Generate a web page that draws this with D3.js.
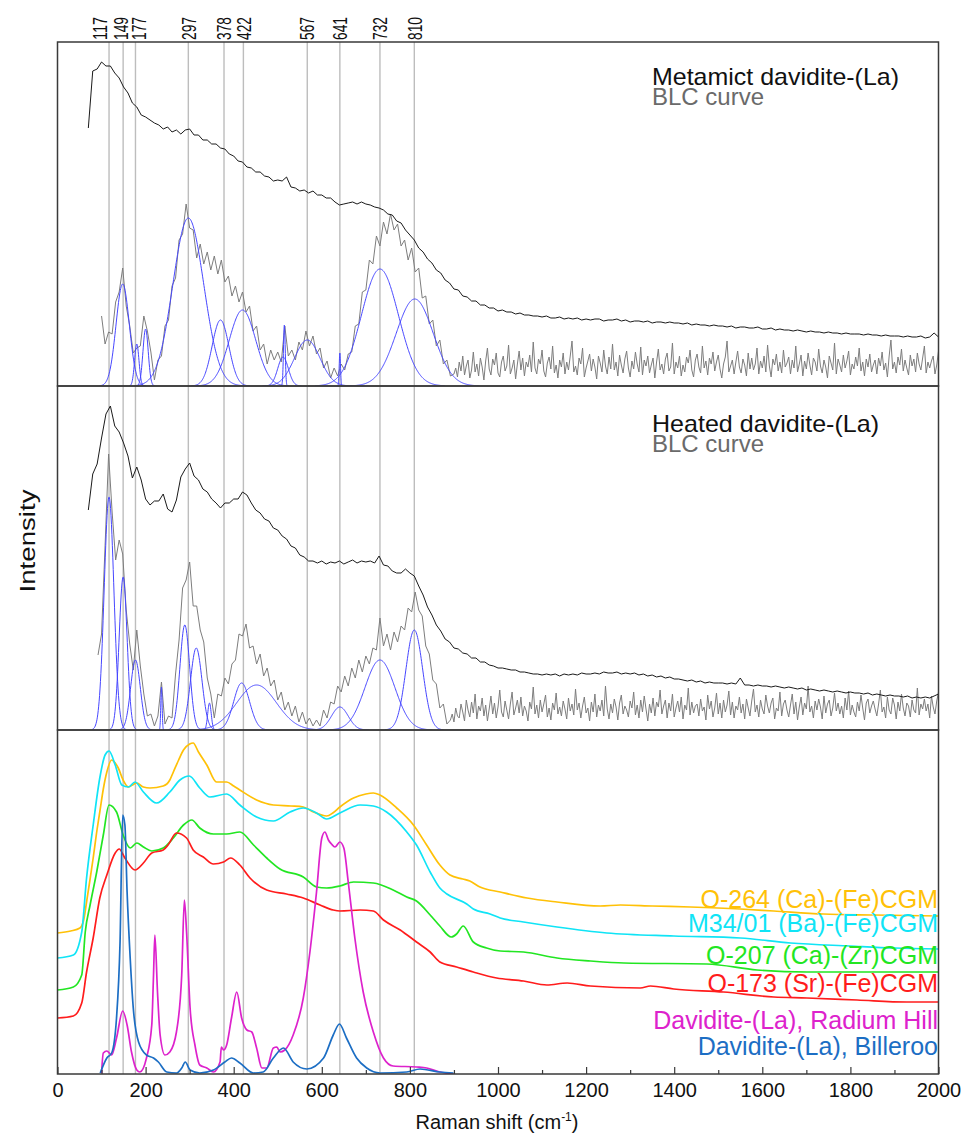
<!DOCTYPE html>
<html>
<head>
<meta charset="utf-8">
<script src="https://cdn.jsdelivr.net/npm/d3@7"></script>
<style>
  body { margin: 0; background: #fff; }
  text { font-family: "Liberation Sans", Arial, sans-serif; }
</style>
</head>
<body>
<svg id="chart" width="976" height="1136"></svg>
<script>
// ---------- Band positions marked across all panels (cm-1) ----------
const bandShifts = [117, 149, 177, 297, 378, 422, 567, 641, 732, 810];
const axisTicks = [0, 200, 400, 600, 800, 1000, 1200, 1400, 1600, 1800, 2000];

// ---------- Metamict davidite-(La): raw spectrum (start 70, step 10 cm-1) ----------
const metaRawStart = 70, metaRawStep = 10;
const metaRaw = [
  258,315,317,324,320,320,313,308,299,293,283,
  279,271,269,266,263,261,257,259,254,256,252,256,
  257,251,251,246,246,242,242,238,237,232,230,
  225,224,219,218,214,214,210,209,205,206,
  205,209,199,198,195,196,193,195,191,191,
  188,188,184,181,182,183,184,182,184,182,
  181,179,178,176,172,171,165,163,156,151,
  146,138,134,127,123,116,113,106,103,97,
  96,90,89,85,85,81,81,78,78,75,
  76,74,74,72,73,71,71,70,70,69,
  70,68,68,69,67,68,67,68,66,67,
  66,67,67,65,66,66,67,65,66,64,
  65,65,64,65,63,64,64,63,64,63,
  63,62,63,61,62,61,61,60,61,60,
  60,59,60,58,59,59,58,58,59,57,
  57,58,56,57,56,56,55,56,55,54,
  55,54,54,53,54,53,53,52,53,52,
  52,52,51,52,51,51,50,51,50,50,
  50,49,50,49,49,50,48,49,53,49
];

// Metamict baseline-corrected (BLC) spectrum, band region (start 100, step 8 cm-1)
const metaBlcStart = 100, metaBlcStep = 8;
const metaBlc = [
  70,42,54,52,84,94,118,80,60,33,
  38,40,70,55,34,6,26,30,60,66,
  100,108,146,152,182,158,156,128,142,122,
  134,116,130,112,126,104,110,90,100,84,
  94,74,80,55,60,36,42,22,36,26,
  34,24,60,30,36,26,44,36,55,40,
  50,32,38,18,25,8,18,10,22,16,
  32,34,60,62,94,96,126,122,150,140,
  164,152,172,156,162,140,146,126,138,114,
  118,88,90,62,66,40,46,22,26,10
];
// Metamict BLC, featureless tail (start 900, step 4 cm-1)
const metaTailStart = 900, metaTailStep = 4;
const metaTail = [
  12,18,9,24,15,30,11,20,26,8,
  16,34,14,22,10,28,19,6,25,38,
  17,11,27,21,33,13,9,24,30,15,
  20,41,12,18,26,7,22,35,16,28,
  10,24,19,31,14,44,18,12,27,22,
  36,15,9,23,29,17,40,13,21,8,
  26,19,33,12,24,16,30,45,14,20,
  11,28,22,38,9,18,25,32,15,27,
  19,7,30,23,14,36,20,12,29,17,
  42,16,24,10,31,21,13,27,35,18,
  9,25,17,34,22,14,39,11,26,20,
  30,13,21,28,8,24,37,16,22,12,
  27,33,15,19,43,12,24,18,30,10,
  21,14,29,23,36,16,9,26,32,19,
  13,40,18,25,11,28,22,34,15,24,
  31,17,8,22,29,45,14,20,26,12,
  24,35,19,13,27,21,10,33,17,28,
  16,22,38,12,25,18,30,14,41,20,
  9,27,21,32,15,24,13,36,19,23,
  29,12,26,18,40,14,22,31,10,25,
  17,33,21,11,28,24,15,37,20,13,
  26,19,8,30,23,16,43,12,27,21,
  14,31,18,25,35,11,22,17,29,20,
  38,15,24,10,27,19,32,14,21,26,
  12,28,20,34,16,23,9,30,46,17,
  24,13,29,21,37,15,26,18,11,31,
  20,27,14,33,22,16,28,40,13,24,
  18,25,30,12,21,35,17,26,22,15
];

// Metamict fitted peak components: centre (cm-1), height, sigma
const metaPeakCentre = [148, 180, 200, 297, 370, 420, 512, 515, 567, 641, 732, 811];
const metaPeakHeight = [102, 42, 57, 168, 66, 76, 29, 61, 46, 33, 117, 87];
const metaPeakSigma  = [15, 5, 6, 35, 19, 30, 12, 2, 29, 1.5, 42, 42];

// ---------- Heated davidite-(La): raw spectrum (start 70, step 10 cm-1) ----------
const heatRawStart = 70, heatRawStep = 10;
const heatRaw = [
  220,256,266,292,316,324,304,298,287,274,252,
  263,250,231,225,229,229,236,221,218,230,253,261,
  267,254,250,241,238,231,227,222,227,227,231,
  231,238,235,227,220,217,211,209,202,200,
  194,191,184,182,175,173,169,169,167,169,
  166,168,167,169,166,168,170,167,169,168,
  169,167,174,165,164,159,157,157,161,157,
  154,144,135,123,115,105,99,91,88,82,
  81,77,76,72,72,68,68,65,64,62,
  62,61,60,60,58,58,57,56,56,55,
  56,55,56,54,56,55,56,55,57,56,
  56,57,56,58,57,57,58,56,57,56,
  57,55,56,54,55,53,54,52,53,51,
  51,50,49,50,48,49,47,48,47,47,
  47,46,47,46,52,45,45,44,45,44,
  44,43,44,43,42,43,42,41,42,40,
  41,40,39,40,39,38,39,38,37,38,
  37,37,36,37,35,36,35,34,35,34,
  34,33,34,32,33,32,33,32,34,36
];

// Heated BLC spectrum, band region (start 92, step 8 cm-1)
const heatBlcStart = 92, heatBlcStep = 8;
const heatBlc = [
  75,96,184,276,218,170,190,176,120,86,
  60,100,64,36,14,16,4,14,48,6,
  14,12,56,90,142,150,168,124,124,100,
  88,52,36,12,36,34,52,46,66,70,
  96,94,106,82,84,66,76,54,62,44,
  50,30,38,20,28,14,24,8,18,6,
  12,4,10,4,20,12,28,26,44,38,
  54,44,62,52,70,58,74,66,82,80,
  112,84,96,80,98,88,104,100,122,118,
  138,120,114,84,76,50,46,22,26,6
];
// Heated BLC, featureless tail (start 892, step 4 cm-1)
const heatTailStart = 892, heatTailStep = 4;
const heatTail = [
  10,16,8,22,14,12,26,18,9,30,
  20,13,28,17,36,11,24,19,32,14,
  25,9,21,34,16,27,12,23,40,18,
  13,29,20,11,26,38,15,22,30,17,
  33,14,24,19,9,28,21,43,16,25,
  12,30,18,26,35,13,22,10,27,20,
  37,16,23,14,29,21,11,32,19,26,
  15,41,20,27,12,24,33,17,22,9,
  28,18,36,13,25,19,30,14,44,21,
  11,26,17,31,23,10,27,35,16,24,
  20,13,29,22,38,15,25,12,30,18,
  34,21,9,26,17,32,14,28,23,40,
  16,24,30,12,27,19,36,13,22,29,
  18,33,11,25,20,42,15,28,17,24,
  26,14,31,19,23,10,35,21,29,13,
  22,37,16,27,12,30,18,25,39,15,
  28,12,24,20,33,17,26,11,31,22,
  14,29,41,18,25,13,30,21,16,35,
  24,17,27,32,11,22,19,38,14,26,
  30,20,13,25,36,16,28,10,23,33,
  15,27,21,44,18,24,12,29,20,31,
  23,11,34,17,26,30,14,22,37,19,
  27,16,24,12,32,20,39,15,25,18,
  13,28,19,35,22,10,27,31,17,24,
  29,21,14,26,40,18,23,12,33,20,
  16,32,25,11,28,19,36,22,14,27,
  24,13,30,20,17,42,15,26,21,31,
  19,26,12,34,23,16,29,38,14,22
];

// Heated fitted peak components: centre (cm-1), height, sigma
const heatPeakCentre = [117, 149, 177, 236, 289, 315, 345, 418, 452, 641, 732, 810];
const heatPeakHeight = [233, 153, 70, 43, 105, 82, 27, 47, 45, 23, 70, 100];
const heatPeakSigma  = [11, 9, 11, 1.5, 11, 13, 4, 18, 45, 19, 34, 19];

// ---------- Reference spectra (cm-1, intensity) ----------
const o264 = [[0,141],[30,143],[51,146],[60,155],[66,172],[74,195],[81,216],[90,245],[96,262],[104,285],[112,302],[123,314],[131,311],[138,306],[149,294],[161,287],[170,289],[180,291],[195,287],[210,286],[240,288],[255,294],[263,302],[275,314],[286,324],[300,330],[308,331],[320,322],[339,309],[361,292],[384,292],[400,288],[414,284],[452,274],[490,269],[530,268],[558,267],[581,262],[611,258],[625,261],[641,267],[672,276],[700,280],[717,281],[732,279],[770,266],[808,249],[838,229],[868,209],[891,199],[920,195],[936,193],[959,187],[1005,182],[1066,176],[1134,172],[1232,168],[1278,169],[1350,168],[1437,167],[1550,165],[1626,163],[1739,160],[1853,159],[2000,158]];
const m3401 = [[0,116],[36,119],[55,142],[66,196],[81,249],[96,296],[108,319],[117,323],[131,309],[146,289],[161,287],[176,292],[195,282],[225,271],[255,282],[278,294],[299,298],[323,286],[346,277],[384,280],[414,269],[452,257],[490,253],[528,262],[558,266],[588,261],[611,255],[641,261],[687,269],[717,268],[747,262],[793,242],[815,229],[846,202],[868,186],[884,180],[929,170],[944,165],[982,160],[1005,156],[1058,152],[1134,147],[1247,141],[1399,138],[1550,136],[1664,131],[1800,128],[1900,126],[2000,125]];
const o207 = [[0,84],[36,87],[55,99],[63,142],[74,169],[89,202],[104,239],[117,269],[134,262],[149,239],[165,226],[180,231],[195,227],[214,223],[240,226],[263,236],[286,249],[305,254],[323,246],[354,240],[384,240],[414,242],[445,229],[475,216],[505,205],[558,197],[588,187],[611,186],[641,188],[672,192],[717,191],[762,184],[793,177],[815,173],[846,159],[868,148],[894,137],[906,140],[921,148],[944,132],[974,126],[1005,123],[1058,122],[1134,116],[1210,113],[1286,111],[1474,110],[1588,104],[1701,102],[2000,102]];
const o173 = [[0,56],[36,58],[55,71],[66,102],[81,136],[96,176],[112,199],[131,221],[140,225],[153,216],[176,204],[195,211],[214,221],[240,224],[251,229],[270,241],[293,236],[308,224],[331,217],[354,210],[377,212],[393,216],[414,209],[437,196],[475,184],[520,180],[558,176],[596,169],[626,164],[641,163],[687,164],[717,163],[740,154],[778,144],[815,132],[846,122],[868,112],[906,107],[944,102],[997,96],[1058,93],[1111,89],[1157,91],[1210,88],[1323,86],[1346,88],[1399,85],[1512,82],[1626,77],[1701,76],[1815,74],[1928,72],[2000,72]];
const radiumHill = [[100,1],[104,21],[112,23],[123,19],[134,36],[148,63],[158,49],[168,22],[180,4],[187,2],[202,16],[214,49],[218,99],[221,139],[227,82],[233,39],[244,19],[255,22],[270,42],[282,99],[288,174],[293,142],[301,66],[312,29],[323,9],[339,6],[354,2],[369,12],[372,27],[377,24],[384,29],[395,56],[407,82],[418,56],[430,44],[441,42],[452,26],[464,6],[475,6],[490,26],[498,27],[505,22],[516,24],[535,39],[558,76],[573,122],[588,182],[600,236],[607,242],[615,234],[622,230],[630,227],[641,232],[650,226],[660,192],[675,136],[694,82],[717,42],[740,16],[762,8],[815,7],[838,6],[868,2],[899,0]];
const billeroo = [[97,1],[112,16],[123,21],[134,56],[142,132],[148,259],[153,249],[158,182],[165,116],[172,66],[184,32],[202,19],[218,16],[229,12],[248,2],[270,1],[282,6],[290,12],[301,4],[323,1],[354,4],[380,12],[395,16],[414,11],[445,1],[467,2],[490,16],[513,26],[535,12],[566,5],[604,16],[626,39],[640,50],[656,36],[679,16],[702,6],[732,1],[793,2],[823,5],[868,2],[899,1]];

const refNames  = ["O-264 (Ca)-(Fe)CGM", "M34/01 (Ba)-(Fe)CGM", "O-207 (Ca)-(Zr)CGM", "O-173 (Sr)-(Fe)CGM", "Davidite-(La), Radium Hill", "Davidite-(La), Billeroo"];
const refColors = ["#ffc107", "#10e4f6", "#22e622", "#ff1c1c", "#dd22cc", "#1c6ec4"];

// ---------- Layout ----------
const svg = d3.select("#chart");
const left = 57.5, right = 938.5;
const panelTops = [42, 386, 730], panelH = 344;
const axisY = panelTops[2] + panelH;

const x = d3.scaleLinear().domain([0, 2000]).range([left, right]);
const yPanel = panelTops.map(t => d3.scaleLinear().domain([0, 344]).range([t + panelH, t]));

const defs = svg.append("defs");
panelTops.forEach((t, i) => {
  defs.append("clipPath").attr("id", "clip" + i)
    .append("rect").attr("x", left).attr("y", t).attr("width", right - left).attr("height", panelH);
});

// Band marker lines behind everything
svg.append("g").selectAll("line").data(bandShifts).join("line")
  .attr("x1", d => x(d)).attr("x2", d => x(d))
  .attr("y1", panelTops[0]).attr("y2", axisY)
  .attr("stroke", "#bdbdbd").attr("stroke-width", 1.4);

// Band labels above the frame
const nudge = {117: -9, 149: -2, 177: 3};
svg.append("g").selectAll("text").data(bandShifts).join("text")
  .attr("transform", d => `translate(${x(d) + (nudge[d] || 0)},40) rotate(-90)`)
  .attr("dy", "0.36em")
  .attr("font-size", 20)
  .attr("textLength", 23).attr("lengthAdjust", "spacingAndGlyphs")
  .attr("fill", "#111")
  .text(d => d);

function sampled(start, step, vals) { return vals.map((v, i) => [start + i * step, v]); }
function peakCurve(c, h, s) {
  const st = Math.min(1, s / 8);
  return d3.range(c - 3.5 * s, c + 3.5 * s + st / 2, st)
    .map(v => [v, h * Math.exp(-((v - c) ** 2) / (2 * s * s))]);
}

function drawLine(panel, pts, color, width, curve) {
  const line = d3.line().x(d => x(d[0])).y(d => yPanel[panel](d[1]))
    .curve(curve || d3.curveLinear);
  svg.append("path").datum(pts)
    .attr("clip-path", `url(#clip${panel})`)
    .attr("fill", "none").attr("stroke", color).attr("stroke-width", width)
    .attr("stroke-linejoin", "round")
    .attr("d", line);
}

// ---------- Panel 1: metamict ----------
drawLine(0, sampled(metaBlcStart, metaBlcStep, metaBlc).concat(sampled(metaTailStart, metaTailStep, metaTail)), "#7d7d7d", 1);
metaPeakCentre.forEach((c, i) => drawLine(0, peakCurve(c, metaPeakHeight[i], metaPeakSigma[i]), "#4646ff", 1));
drawLine(0, sampled(metaRawStart, metaRawStep, metaRaw), "#1a1a1a", 1);

// ---------- Panel 2: heated ----------
drawLine(1, sampled(heatBlcStart, heatBlcStep, heatBlc).concat(sampled(heatTailStart, heatTailStep, heatTail)), "#7d7d7d", 1);
heatPeakCentre.forEach((c, i) => drawLine(1, peakCurve(c, heatPeakHeight[i], heatPeakSigma[i]), "#4646ff", 1));
drawLine(1, sampled(heatRawStart, heatRawStep, heatRaw), "#1a1a1a", 1);

// ---------- Panel 3: reference spectra ----------
[o264, m3401, o207, o173, radiumHill, billeroo].forEach((s, i) =>
  drawLine(2, s, refColors[i], 1.7, d3.curveMonotoneX));

// ---------- Frames ----------
panelTops.forEach(t => {
  svg.append("rect").attr("x", left).attr("y", t).attr("width", right - left).attr("height", panelH)
    .attr("fill", "none").attr("stroke", "#3a3a3a").attr("stroke-width", 1.5);
});

// ---------- X axis ----------
const axisMajor = d3.axisBottom(x).tickValues(axisTicks).tickSize(-7).tickPadding(9).tickFormat(d3.format("d"));
const gAxis = svg.append("g").attr("transform", `translate(0,${axisY})`).call(axisMajor);
gAxis.select(".domain").remove();
gAxis.selectAll(".tick line").attr("stroke", "#3a3a3a").attr("stroke-width", 1.2);
gAxis.selectAll(".tick text").attr("font-size", 20).attr("fill", "#111")
  .attr("font-family", "Liberation Sans, Arial, sans-serif");

const axisMinor = d3.axisBottom(x).tickValues(d3.range(100, 2000, 200)).tickSize(-4).tickFormat("");
const gMinor = svg.append("g").attr("transform", `translate(0,${axisY})`).call(axisMinor);
gMinor.select(".domain").remove();
gMinor.selectAll(".tick line").attr("stroke", "#3a3a3a").attr("stroke-width", 1.2);

// Axis titles
const xTitle = svg.append("text").attr("x", 497).attr("y", 1129).attr("text-anchor", "middle")
  .attr("font-size", 20).attr("fill", "#111");
xTitle.append("tspan").text("Raman shift (cm");
xTitle.append("tspan").attr("font-size", 12).attr("dy", -8).text("-1");
xTitle.append("tspan").attr("dy", 8).text(")");

svg.append("text").attr("transform", "translate(27,541) rotate(-90)")
  .attr("text-anchor", "middle").attr("dy", "0.36em")
  .attr("font-size", 22).attr("textLength", 103).attr("lengthAdjust", "spacingAndGlyphs")
  .attr("fill", "#111").text("Intensity");

// ---------- Panel titles: sample name with BLC note beneath, one text block each ----------
function titleBlock(y, name, width) {
  const t = svg.append("text").attr("font-size", 24);
  t.append("tspan").attr("x", 652).attr("y", y).attr("fill", "#111")
    .attr("textLength", width).attr("lengthAdjust", "spacingAndGlyphs").text(name);
  t.append("tspan").attr("x", 652).attr("y", y + 20).attr("fill", "#6a6a6a").text("BLC curve");
}
titleBlock(85, "Metamict davidite-(La)", 247);
titleBlock(432, "Heated davidite-(La)", 227);

// ---------- Reference spectra legend (one right-aligned block) ----------
const legendBase = [908, 932, 964, 992, 1029, 1055];
const legend = svg.append("text").attr("text-anchor", "end").attr("font-size", 25);
refNames.forEach((name, i) => {
  legend.append("tspan").attr("x", 938).attr("y", legendBase[i])
    .attr("fill", refColors[i]).text(name);
});
</script>
</body>
</html>
